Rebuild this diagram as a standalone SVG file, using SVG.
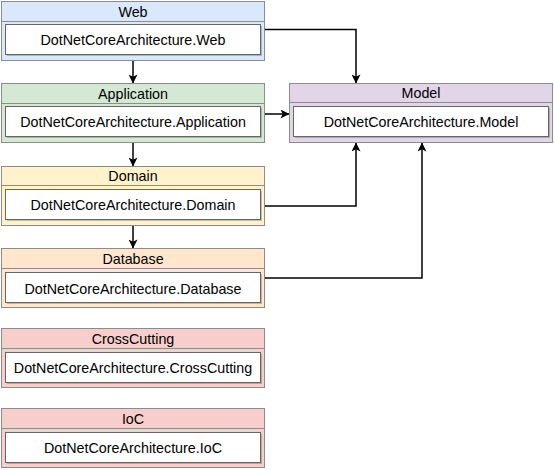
<svg xmlns="http://www.w3.org/2000/svg" width="554" height="470" viewBox="0 0 554 470">
<defs>
<marker id="arr" viewBox="0 0 10 10" refX="9.5" refY="5" markerWidth="9" markerHeight="9" markerUnits="userSpaceOnUse" orient="auto">
<path d="M0,0 L10,5 L0,10 L2.5,5 z" fill="#000"/>
</marker>
</defs>
<style>
.outer{stroke:#8c8c8c;stroke-width:1}
.inner{fill:#fff;stroke:#666;stroke-width:1}
.shadow{fill:#000;opacity:0.22}
.hdr{fill:none;stroke:#8c8c8c;stroke-width:1}
.t{font-family:"Liberation Sans",Arial,sans-serif;font-size:14.3px;fill:#000;text-anchor:middle;dominant-baseline:central}
.c{fill:none;stroke:#000;stroke-width:1.5;marker-end:url(#arr)}
.web{fill:#dae8fc}.app{fill:#d5e8d4}.dom{fill:#fff2cc}.db{fill:#ffe6cc}.red{fill:#f8cecc}.mod{fill:#e1d5e7}
</style>
<rect width="554" height="470" fill="#fff"/>
<g id="web">
<rect class="outer web" x="1.5" y="1.5" width="263" height="59"/>
<line class="hdr" x1="1.5" y1="21.5" x2="264.5" y2="21.5"/>
<rect class="shadow" x="7" y="26" width="255" height="30"/>
<rect class="inner" x="5.5" y="24.5" width="255" height="30"/>
<text class="t" x="133" y="12">Web</text>
<text class="t" x="133" y="40">DotNetCoreArchitecture.Web</text>
</g>
<g id="application">
<rect class="outer app" x="1.5" y="83.5" width="263" height="59"/>
<line class="hdr" x1="1.5" y1="103.5" x2="264.5" y2="103.5"/>
<rect class="shadow" x="7" y="108" width="255" height="30"/>
<rect class="inner" x="5.5" y="106.5" width="255" height="30"/>
<text class="t" x="133" y="94">Application</text>
<text class="t" x="133" y="122">DotNetCoreArchitecture.Application</text>
</g>
<g id="domain">
<rect class="outer dom" x="1.5" y="166.5" width="263" height="59"/>
<line class="hdr" x1="1.5" y1="185.5" x2="264.5" y2="185.5"/>
<rect class="shadow" x="7" y="191" width="255" height="30"/>
<rect class="inner" x="5.5" y="189.5" width="255" height="30"/>
<text class="t" x="133" y="176">Domain</text>
<text class="t" x="133" y="205">DotNetCoreArchitecture.Domain</text>
</g>
<g id="database">
<rect class="outer db" x="1.5" y="248.5" width="263" height="59"/>
<line class="hdr" x1="1.5" y1="268.5" x2="264.5" y2="268.5"/>
<rect class="shadow" x="7" y="274" width="255" height="30"/>
<rect class="inner" x="5.5" y="272.5" width="255" height="30"/>
<text class="t" x="133" y="259">Database</text>
<text class="t" x="133" y="289">DotNetCoreArchitecture.Database</text>
</g>
<g id="crosscutting">
<rect class="outer red" x="1.5" y="328.5" width="263" height="59"/>
<line class="hdr" x1="1.5" y1="348.5" x2="264.5" y2="348.5"/>
<rect class="shadow" x="7" y="354" width="255" height="30"/>
<rect class="inner" x="5.5" y="352.5" width="255" height="30"/>
<text class="t" x="133" y="339">CrossCutting</text>
<text class="t" x="133" y="368">DotNetCoreArchitecture.CrossCutting</text>
</g>
<g id="ioc">
<rect class="outer red" x="1.5" y="408.5" width="263" height="59"/>
<line class="hdr" x1="1.5" y1="428.5" x2="264.5" y2="428.5"/>
<rect class="shadow" x="7" y="434" width="255" height="30"/>
<rect class="inner" x="5.5" y="432.5" width="255" height="30"/>
<text class="t" x="133" y="419">IoC</text>
<text class="t" x="133" y="448">DotNetCoreArchitecture.IoC</text>
</g>
<g id="model">
<rect class="outer mod" x="289.5" y="83.5" width="263" height="59"/>
<line class="hdr" x1="289.5" y1="102.5" x2="552.5" y2="102.5"/>
<rect class="shadow" x="295" y="108" width="255" height="30"/>
<rect class="inner" x="293.5" y="106.5" width="255" height="30"/>
<text class="t" x="421" y="93">Model</text>
<text class="t" x="421" y="122">DotNetCoreArchitecture.Model</text>
</g>
<g id="connectors">
<path class="c" d="M133,61 L133,83"/>
<path class="c" d="M133,143 L133,166"/>
<path class="c" d="M133,226 L133,248"/>
<path class="c" d="M265,29.5 L356,29.5 L356,83"/>
<path class="c" d="M265,114 L289,114"/>
<path class="c" d="M265,206 L356,206 L356,143"/>
<path class="c" d="M265,278 L422,278 L422,143"/>
</g>
</svg>
